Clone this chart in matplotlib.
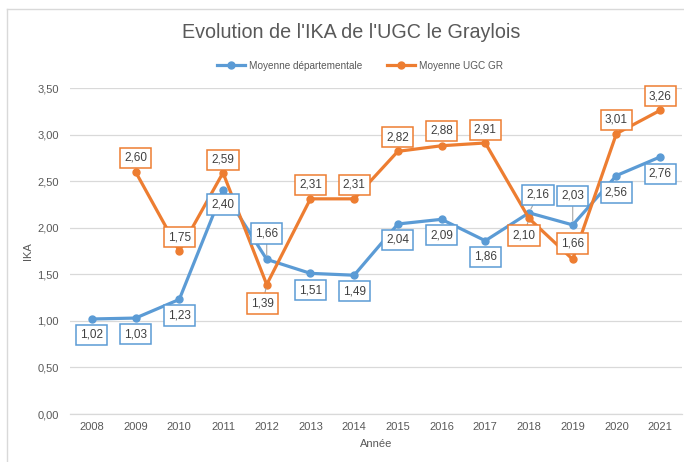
import matplotlib
matplotlib.use("Agg")
import matplotlib.pyplot as plt
from matplotlib.lines import Line2D
import numpy as np

years = ["2008", "2009", "2010", "2011", "2012", "2013", "2014",
         "2015", "2016", "2017", "2018", "2019", "2020", "2021"]
dept = [1.02, 1.03, 1.23, 2.40, 1.66, 1.51, 1.49, 2.04, 2.09, 1.86, 2.16, 2.03, 2.56, 2.76]
ugc = [np.nan, 2.60, 1.75, 2.59, 1.39, 2.31, 2.31, 2.82, 2.88, 2.91, 2.10, 1.66, 3.01, 3.26]
yticks = [0.0, 0.5, 1.0, 1.5, 2.0, 2.5, 3.0, 3.5]

# label offsets in pixels (dx, dy), and whether to draw a leader line
dept_off = [(0, -16), (0, -16), (0, -16), (0, -14), (0, 26), (0, -17), (0, -16),
            (0, -16), (0, -16), (0, -16), (9, 18), (0, 29), (0, -17), (0, -17)]
dept_lead = [False, False, False, False, True, False, False,
             False, False, False, True, True, False, False]
ugc_off = [None, (0, 14), (0, 14), (0, 13), (-4, -19), (0, 14), (0, 14),
           (0, 14), (0, 15), (0, 13), (-5, -17), (0, 16), (0, 14), (0, 14)]
ugc_lead = [False, False, False, False, True, False, False,
            False, False, False, True, False, False, False]

BLUE = "#5B9BD5"
ORANGE = "#ED7D31"
GRAY = "#595959"
GRID = "#D9D9D9"
FONT = "Liberation Sans"

plt.rcParams['font.family'] = [FONT, 'DejaVu Sans']

W, H = 684, 462
fig = plt.figure(figsize=(W / 100, H / 100), dpi=100)
ax = fig.add_axes([70 / W, 1 - 414 / H, (682 - 70) / W, (414 - 88) / H])

x = np.arange(len(years))
ax.plot(x, dept, color=BLUE, lw=2.3, marker='o', ms=5, label="Moyenne départementale",
        solid_joinstyle='round', zorder=3)
ax.plot(x, ugc, color=ORANGE, lw=2.3, marker='o', ms=5, label="Moyenne UGC GR",
        solid_joinstyle='round', zorder=3)

ax.set_xlim(-0.5, len(years) - 0.5)
ax.set_ylim(0, 3.5)
ax.set_yticks(yticks)
ax.set_yticklabels([f"{v:.2f}".replace(".", ",") for v in yticks])
ax.set_xticks(x)
ax.set_xticklabels(years)
ax.tick_params(length=0, colors=GRAY, labelsize=8)
ax.tick_params(axis='y', pad=8)
ax.tick_params(axis='x', pad=6)
ax.grid(axis='y', color=GRID, lw=0.9)
ax.set_axisbelow(True)
for s in ["top", "right", "left"]:
    ax.spines[s].set_visible(False)
ax.spines["bottom"].set_color(GRID)
ax.spines["bottom"].set_linewidth(0.9)

ax.set_xlabel("Année", color=GRAY, fontsize=8, labelpad=5)
ax.set_ylabel("IKA", color=GRAY, fontsize=8, labelpad=3)


def px2pt(v):
    return v * 72 / 100


def label(xv, yv, off, lead, color):
    txt = f"{yv:.2f}".replace(".", ",")
    ap = None
    if lead:
        ap = dict(arrowstyle='-', color="#A6A6A6", lw=0.8, shrinkA=0, shrinkB=3)
    ax.annotate(txt, (xv, yv), xytext=(px2pt(off[0]), px2pt(off[1])),
                textcoords='offset points', ha='center', va='center',
                fontsize=8.5, color="#404040", zorder=5,
                bbox=dict(boxstyle='square,pad=0.35', fc='white', ec=color, lw=1.1),
                arrowprops=ap)


for i in range(len(years)):
    label(x[i], dept[i], dept_off[i], dept_lead[i], BLUE)
    if not np.isnan(ugc[i]):
        label(x[i], ugc[i], ugc_off[i], ugc_lead[i], ORANGE)

fig.text(351 / W, 1 - 33 / H, "Evolution de l'IKA de l'UGC le Graylois", ha='center',
         va='center', fontsize=14.2, color=GRAY)

leg = fig.legend(loc='center', bbox_to_anchor=(360 / W, 1 - 66 / H), ncol=2, frameon=False,
                 fontsize=7.2, handlelength=2.8, columnspacing=2.4, handletextpad=0.4)
for t in leg.get_texts():
    t.set_color(GRAY)

# chart border (left and top edges visible)
fig.add_artist(Line2D([7 / W, 7 / W], [0, 1 - 9 / H], transform=fig.transFigure,
                      color=GRID, lw=1))
fig.add_artist(Line2D([7 / W, 1], [1 - 9 / H, 1 - 9 / H], transform=fig.transFigure,
                      color=GRID, lw=1))

fig.savefig("out.png", dpi=100)
